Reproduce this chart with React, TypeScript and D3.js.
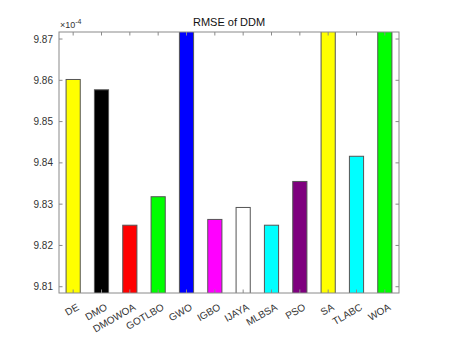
import React from "react";
import * as d3 from "d3";

// values are in units of 1e-4
const algorithms = ["DE", "DMO", "DMOWOA", "GOTLBO", "GWO", "IGBO", "IJAYA", "MLBSA", "PSO", "SA", "TLABC", "WOA"];
const rmse = [9.8602, 9.8577, 9.8249, 9.8318, 9.95, 9.8263, 9.8292, 9.8249, 9.8355, 9.95, 9.8416, 9.95];
const barColors = ["#ffff00", "#000000", "#ff0000", "#00ff00", "#0000ff", "#ff00ff", "#ffffff", "#00ffff", "#7e007e", "#ffff00", "#00ffff", "#00ff00"];
const yTicks = [9.81, 9.82, 9.83, 9.84, 9.85, 9.86, 9.87];

const App = () => {
    const width = 476;
    const height = 341;
    const left = 59;
    const right = 399;
    const top = 32;
    const bottom = 293;
    const axisColor = "#8a8a8a";
    const textColor = "#333333";

    const xScale = d3.scaleBand<string>()
        .domain(algorithms)
        .range([left, right]);

    const yScale = d3.scaleLinear()
        .domain([9.80848, 9.87170])
        .range([bottom, top]);

    const barW = xScale.bandwidth() * 0.5;

    return (
        <svg width={width} height={height} style={{ position: "absolute", left: 0, top: 0, fontFamily: "Liberation Sans, Arial, sans-serif" }}>
            <rect x={0} y={0} width={width} height={height} fill="#ffffff" />
            <defs>
                <clipPath id="plotClip">
                    <rect x={left} y={top} width={right - left} height={bottom - top} />
                </clipPath>
            </defs>
            <g clipPath="url(#plotClip)">
                {algorithms.map((a, i) => {
                    const cx = xScale(a)! + xScale.bandwidth() / 2;
                    const y = yScale(rmse[i]);
                    return (
                        <rect
                            key={a}
                            x={cx - barW / 2}
                            y={y}
                            width={barW}
                            height={bottom - y + 2}
                            fill={barColors[i]}
                            stroke="#555555"
                            strokeWidth={1}
                        />
                    );
                })}
            </g>
            <rect x={left} y={top} width={right - left} height={bottom - top} fill="none" stroke={axisColor} strokeWidth={1} />
            {yTicks.map((t) => (
                <g key={t}>
                    <line x1={left} x2={left + 3.5} y1={yScale(t)} y2={yScale(t)} stroke={axisColor} />
                    <line x1={right} x2={right - 3.5} y1={yScale(t)} y2={yScale(t)} stroke={axisColor} />
                    <text x={left - 6} y={yScale(t) + 3.5} textAnchor="end" fontSize={10} fill={textColor}>
                        {t.toFixed(2)}
                    </text>
                </g>
            ))}
            {algorithms.map((a) => {
                const cx = xScale(a)! + xScale.bandwidth() / 2;
                return (
                    <g key={a}>
                        <line x1={cx} x2={cx} y1={bottom} y2={bottom - 3.5} stroke={axisColor} />
                        <line x1={cx} x2={cx} y1={top} y2={top + 3.5} stroke={axisColor} />
                        <text
                            transform={`translate(${cx + 3},${bottom + 10}) rotate(-30)`}
                            textAnchor="end"
                            dy="0.7em"
                            fontSize={10}
                            fill={textColor}
                        >
                            {a}
                        </text>
                    </g>
                );
            })}
            <text x={left + 1} y={top - 4} fontSize={9} fill={textColor}>
                ×10<tspan dy={-4} fontSize={7}>-4</tspan>
            </text>
            <text x={(left + right) / 2} y={top - 6} textAnchor="middle" fontSize={11} fill="#111111">
                RMSE of DDM
            </text>
        </svg>
    );
};

export default App;
